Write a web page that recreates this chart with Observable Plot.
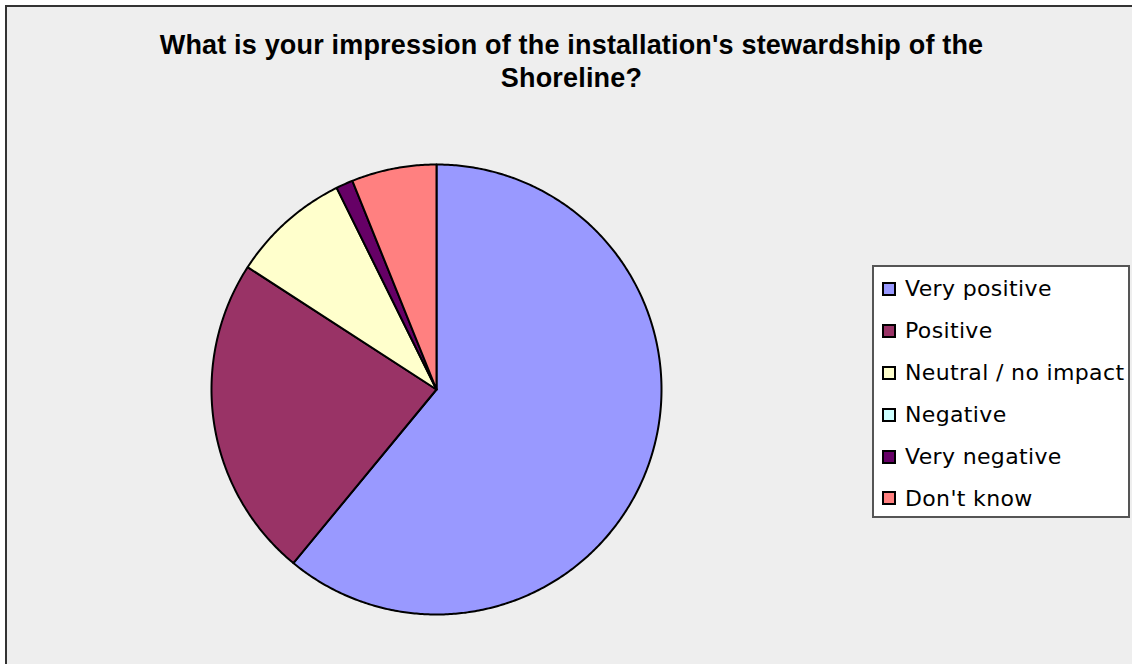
<!DOCTYPE html>
<html>
<head>
<meta charset="utf-8">
<script src="https://cdn.jsdelivr.net/npm/d3@7"></script>
<script src="https://cdn.jsdelivr.net/npm/@observablehq/plot@0.6"></script>
<style>
  html, body { margin: 0; padding: 0; background: #ffffff; }
  #root { position: relative; width: 1132px; height: 664px; overflow: hidden; background: #ffffff; }
  #frame { position: absolute; left: 5px; top: 5px; width: 1200px; height: 700px; background: #eeeeee;
           border-left: 2px solid #333333; border-top: 2px solid #333333; }
  #title { position: absolute; left: 0; top: 29px; width: 1143px; text-align: center;
           font-family: "Liberation Sans", Arial, sans-serif; font-weight: bold; font-size: 27px;
           letter-spacing: 0.18px; line-height: 33px; color: #000; }
  #pie { position: absolute; left: 206px; top: 159px; }
  #legend { position: absolute; left: 872px; top: 265px; width: 258px; height: 253px; background: #ffffff;
            border: 2px solid #555555; box-sizing: border-box; }
  .item { position: absolute; left: 0; height: 42px; line-height: 42px; white-space: nowrap;
          font-family: "DejaVu Sans", Verdana, sans-serif; font-size: 22px; letter-spacing: 0.35px; color: #000; }
  .sw { position: absolute; left: 8px; width: 14px; height: 14px; box-sizing: border-box; border: 2px solid #000; }
  .lbl { position: absolute; left: 31px; }
</style>
</head>
<body>
<div id="root">
  <div id="frame"></div>
  <div id="title">What is your impression of the installation's stewardship of the<br>Shoreline?</div>
  <div id="pie"></div>
  <div id="legend"></div>
</div>
<script>
// ---- data ----
const categories = ["Very positive", "Positive", "Neutral / no impact", "Negative", "Very negative", "Don't know"];
const counts = [50, 19, 7, 0, 1, 5];
const colors = ["#9999ff", "#993366", "#ffffcc", "#ccffff", "#660066", "#ff8080"];
const titleText = "What is your impression of the installation's stewardship of the Shoreline?";

// ---- slices ----
const arcs = d3.pie().sort(null).startAngle(0).endAngle(2 * Math.PI)(counts);
const pts = [];
arcs.forEach((a, i) => {
  if (a.value <= 0) return;
  const cat = categories[i];
  pts.push({cat, x: 0, y: 0});
  const n = Math.max(2, Math.ceil((a.endAngle - a.startAngle) / (Math.PI / 360)));
  for (let k = 0; k <= n; k++) {
    const t = a.startAngle + (a.endAngle - a.startAngle) * k / n;
    pts.push({cat, x: Math.sin(t), y: Math.cos(t)});
  }
});

const S = 460, R = 225;
const ext = (S / 2) / R;
const chart = Plot.plot({
  width: S, height: S,
  margin: 0,
  style: {background: "transparent", overflow: "visible"},
  x: {domain: [-ext, ext], axis: null},
  y: {domain: [-ext, ext], axis: null},
  color: {type: "ordinal", domain: categories, range: colors},
  marks: [
    Plot.line(pts, {x: "x", y: "y", z: "cat", fill: "cat", stroke: "#000", strokeWidth: 2,
                    curve: "linear-closed", strokeLinejoin: "round"})
  ]
});
document.getElementById("pie").appendChild(chart);

// ---- legend ----
const lg = document.getElementById("legend");
const rowCenters0 = 288 - 265; // first row centre relative to legend top
const rowStep = 41.9;
categories.forEach((c, i) => {
  const cy = rowCenters0 + i * rowStep - 1;
  const row = document.createElement("div");
  row.className = "item";
  row.style.top = (cy - 20.6) + "px";
  row.style.width = "100%";
  const sw = document.createElement("div");
  sw.className = "sw";
  sw.style.background = colors[i];
  sw.style.top = (20.6 - 7) + "px";
  const lbl = document.createElement("span");
  lbl.className = "lbl";
  lbl.textContent = c;
  row.appendChild(sw);
  row.appendChild(lbl);
  lg.appendChild(row);
});
</script>
</body>
</html>
